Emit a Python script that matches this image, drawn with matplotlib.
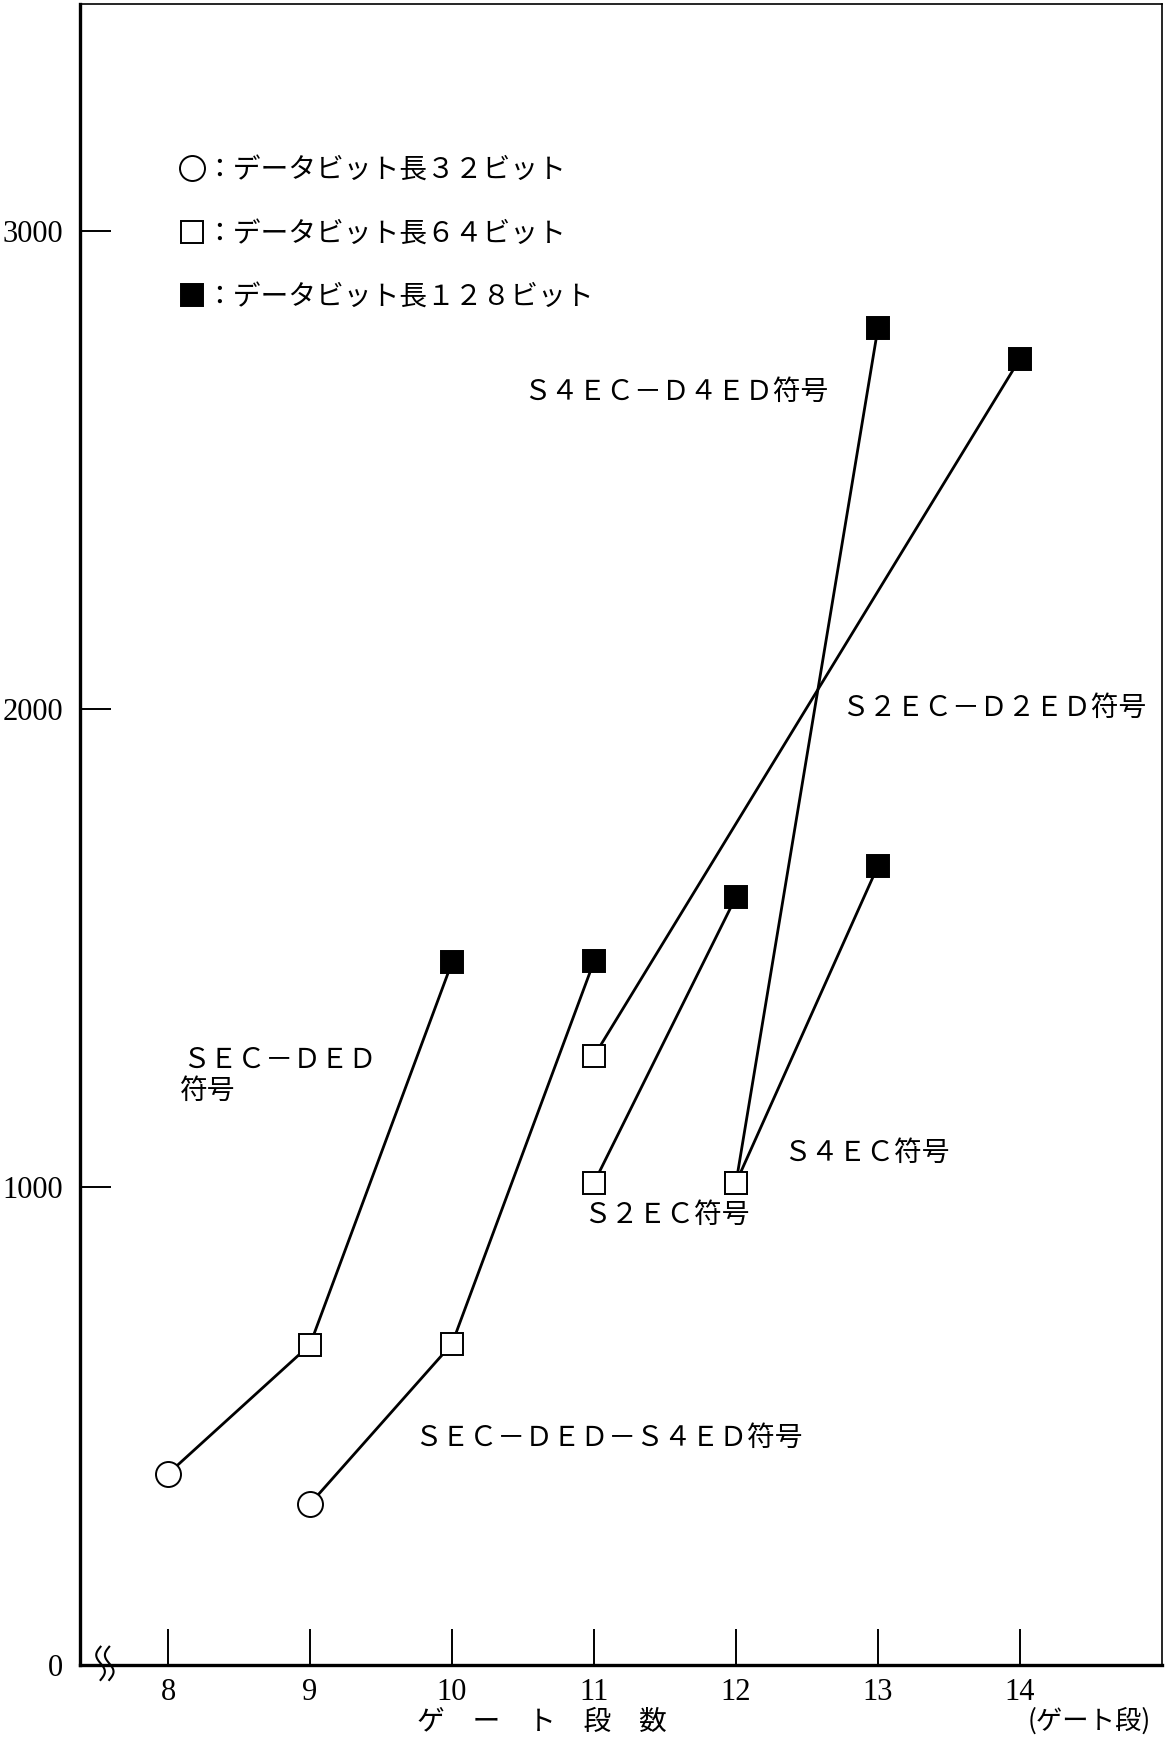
import numpy as np
import matplotlib
matplotlib.use('Agg')
import matplotlib.pyplot as plt
from matplotlib.lines import Line2D

plt.rcParams['font.family'] = ['Noto Sans CJK JP', 'DejaVu Sans']

# 各符号の系列: ゲート段数, 値, マーカー種類 (c=32bit, s=64bit, f=128bit)
sec_ded_x = [8, 9, 10]
sec_ded_y = [400, 670, 1470]
sec_ded_m = ['c', 's', 'f']

sec_ded_s4ed_x = [9, 10, 11]
sec_ded_s4ed_y = [337, 672, 1472]
sec_ded_s4ed_m = ['c', 's', 'f']

s2ec_d2ed_x = [11, 14]
s2ec_d2ed_y = [1274, 2733]
s2ec_d2ed_m = ['s', 'f']

s2ec_x = [11, 12]
s2ec_y = [1009, 1607]
s2ec_m = ['s', 'f']

s4ec_d4ed_x = [12, 13]
s4ec_d4ed_y = [1009, 2798]
s4ec_d4ed_m = ['s', 'f']

s4ec_x = [12, 13]
s4ec_y = [1009, 1672]
s4ec_m = ['s', 'f']

x_ticks = [8, 9, 10, 11, 12, 13, 14]
y_ticks = [0, 1000, 2000, 3000]

labels = [
    ('Ｓ４ＥＣ－Ｄ４ＥＤ符号', 10.5, 2663),
    ('Ｓ２ＥＣ－Ｄ２ＥＤ符号', 12.74, 2002),
    ('ＳＥＣ－ＤＥＤ', 8.1, 1267),
    ('符号', 8.08, 1202),
    ('Ｓ４ＥＣ符号', 12.33, 1072),
    ('Ｓ２ＥＣ符号', 10.92, 942),
    ('ＳＥＣ－ＤＥＤ－Ｓ４ＥＤ符号', 9.73, 474),
]

legend_text = ['：データビット長３２ビット', '：データビット長６４ビット', '：データビット長１２８ビット']

fig = plt.figure(figsize=(11.65, 17.42), dpi=100)
ax = fig.add_axes([80/1165, 77/1742, 1082/1165, 1661/1742])

mstyle = {
    'c': dict(marker='o', markersize=18, markerfacecolor='white', markeredgecolor='black', markeredgewidth=1.4),
    's': dict(marker='s', markersize=16, markerfacecolor='white', markeredgecolor='black', markeredgewidth=1.4),
    'f': dict(marker='s', markersize=16, markerfacecolor='black', markeredgecolor='black', markeredgewidth=1.4),
}

series = [
    (sec_ded_x, sec_ded_y, sec_ded_m),
    (sec_ded_s4ed_x, sec_ded_s4ed_y, sec_ded_s4ed_m),
    (s2ec_d2ed_x, s2ec_d2ed_y, s2ec_d2ed_m),
    (s2ec_x, s2ec_y, s2ec_m),
    (s4ec_d4ed_x, s4ec_d4ed_y, s4ec_d4ed_m),
    (s4ec_x, s4ec_y, s4ec_m),
]
for xs, ys, ms in series:
    ax.plot(xs, ys, color='black', lw=2.0, zorder=2)
for xs, ys, ms in series:
    for x, y, m in zip(xs, ys, ms):
        ax.plot([x], [y], linestyle='none', zorder=3, **mstyle[m])

for txt, x, y in labels:
    ax.text(x, y, txt, fontsize=20, ha='left', va='center')

ax.set_xlim(7.38, 15.0)
ax.set_ylim(0, 3475)
ax.set_xticks(x_ticks)
ax.set_yticks(y_ticks)
ax.set_xticklabels([str(v) for v in x_ticks], fontsize=22, family='Liberation Serif')
ax.set_yticklabels([str(v) for v in y_ticks], fontsize=22, family='Liberation Serif')
ax.tick_params(axis='x', direction='in', length=26, width=1.4, pad=9)
ax.tick_params(axis='y', direction='in', length=22, width=1.4, pad=12)

ax.spines['left'].set_linewidth(2.4)
ax.spines['bottom'].set_linewidth(2.4)
ax.spines['top'].set_linewidth(1.2)
ax.spines['right'].set_linewidth(1.2)

ax.set_xlabel('ゲ　ー　ト　段　数', fontsize=20)
ax.xaxis.set_label_coords(0.4265, -0.0255)
ax.text(14.49, -0.0335, '(ゲート段)', fontsize=19, ha='center', va='center',
        transform=ax.get_xaxis_transform())

# 軸の省略記号
t = np.linspace(0, 1, 40)
for x0 in (0.019, 0.027):
    ax.plot(x0 + 0.004 * np.sin(2 * np.pi * t), -0.009 + 0.02 * t, color='black', lw=1.5,
            transform=ax.transAxes, clip_on=False)

handles = [Line2D([], [], linestyle='none', **mstyle[k]) for k in ('c', 's', 'f')]
ax.legend(handles, legend_text, loc='upper left', bbox_to_anchor=(0.093, 0.909),
          frameon=False, fontsize=20, handlelength=0.8, handletextpad=0.1,
          labelspacing=1.2, borderpad=0, borderaxespad=0)

fig.savefig('out.png', dpi=100)
